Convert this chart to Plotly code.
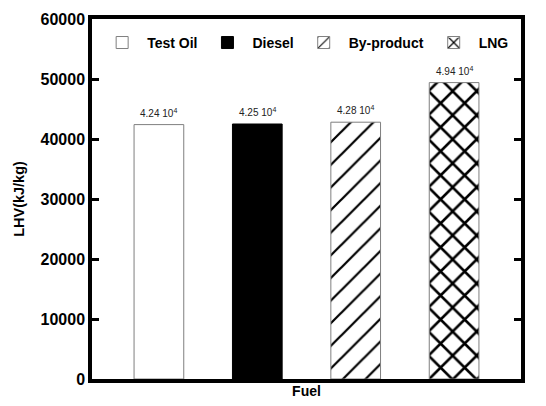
import plotly.graph_objects as go

fuels = ["Test Oil", "Diesel", "By-product", "LNG"]
lhv = [42400, 42500, 42800, 49400]
labels = ["4.24 10<sup>4</sup>", "4.25 10<sup>4</sup>", "4.28 10<sup>4</sup>", "4.94 10<sup>4</sup>"]
yticks = [0, 10000, 20000, 30000, 40000, 50000, 60000]

styles = [
    dict(color="white", line=dict(color="#7f7f7f", width=1)),
    dict(color="black", line=dict(color="black", width=1)),
    dict(color="white", line=dict(color="#7f7f7f", width=1),
         pattern=dict(shape="/", fgcolor="black", bgcolor="white", fgopacity=1,
                      size=16, solidity=0.14)),
    dict(color="white", line=dict(color="#7f7f7f", width=1),
         pattern=dict(shape="x", fgcolor="black", bgcolor="white", fgopacity=1,
                      size=17, solidity=0.28)),
]

fig = go.Figure()
for i, (name, v, st) in enumerate(zip(fuels, lhv, styles)):
    fig.add_trace(go.Bar(
        x=[i], y=[v], name=f"<b>{name}</b>", width=0.505, marker=st,
    ))
for i, (v, lab) in enumerate(zip(lhv, labels)):
    fig.add_annotation(x=i, y=v, text=lab, showarrow=False, yanchor="bottom", yshift=4,
                       font=dict(family="Liberation Sans, Arial", size=10, color="#222"))

fig.update_layout(
    width=546, height=406,
    margin=dict(l=92, r=25, t=19, b=27),
    paper_bgcolor="white", plot_bgcolor="white",
    font=dict(family="Liberation Sans, Arial", size=15, color="black"),
    showlegend=True,
    legend=dict(orientation="h", x=0.012, y=0.978,
                xanchor="left", yanchor="top",
                bgcolor="rgba(0,0,0,0)", font=dict(size=14, family="Liberation Sans, Arial"),
                itemwidth=40, tracegroupgap=0),
    xaxis=dict(range=[-0.68, 3.68], showticklabels=False, ticks="", showgrid=False,
               zeroline=False, showline=True, linewidth=3.5, linecolor="black", mirror=True,
               title=dict(text="<b>Fuel</b>", standoff=5, font=dict(size=14))),
    yaxis=dict(range=[0, 60000], tickvals=yticks, ticktext=[f"<b>{t}</b>" for t in yticks],
               tickfont=dict(size=16),
               ticks="inside", ticklen=7, tickwidth=3, tickcolor="black",
               showgrid=False, zeroline=False, showline=True, linewidth=3.5,
               linecolor="black", mirror="ticks",
               title=dict(text="<b>LHV(kJ/kg)</b>", standoff=13, font=dict(size=14.5))),
)

fig.write_html("out.html")
